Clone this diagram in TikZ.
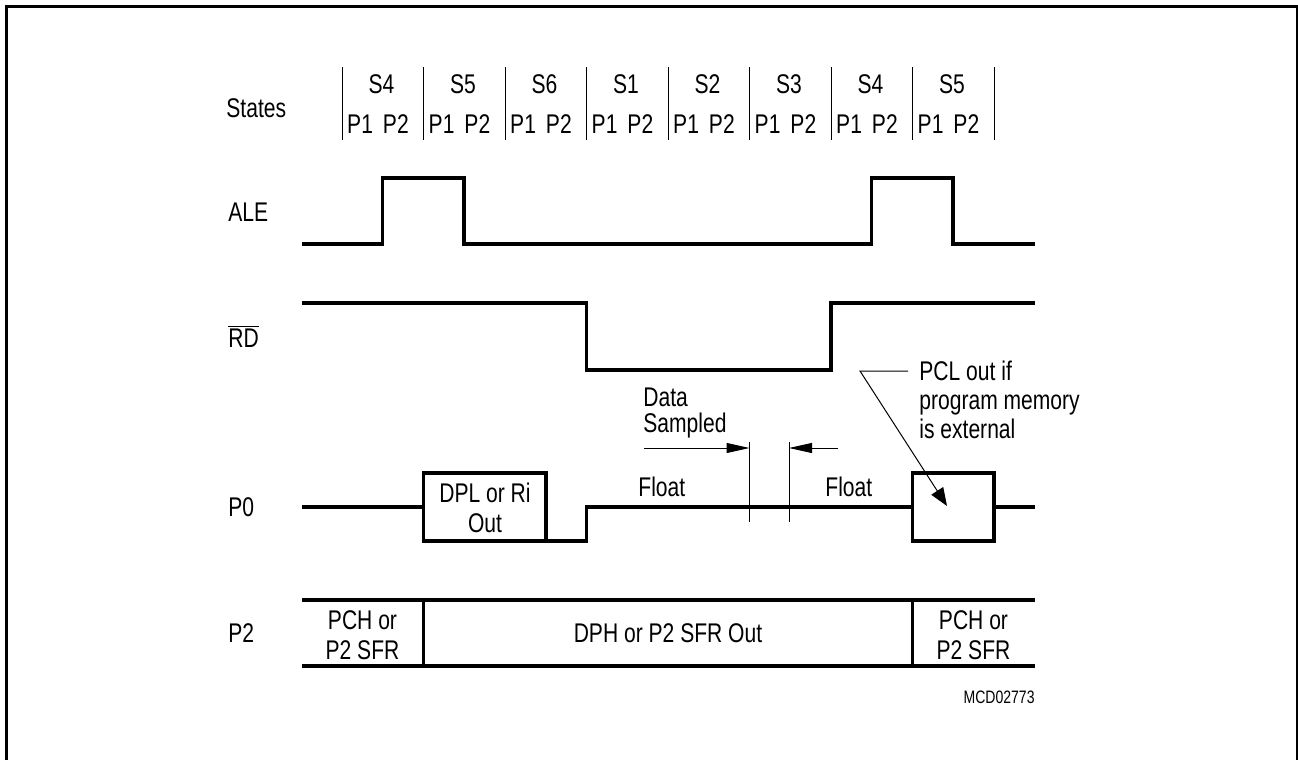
\documentclass[tikz,border=0pt]{standalone}
\usepackage{fontspec}
\setmainfont{Liberation Sans}[FakeStretch=0.78]
\usetikzlibrary{arrows.meta}

\begin{document}
\begin{tikzpicture}[x=0.5pt,y=-0.5pt,every node/.style={font=\fontsize{13.5}{15}\selectfont, inner sep=0pt}]
  \tikzset{
    sig/.style={line width=1.7pt, line join=miter},
    thin line/.style={line width=0.5pt},
    sample/.style={line width=0.5pt, -{Triangle[length=11.5pt,width=5pt]}},
    lead/.style={line width=0.5pt, -{Triangle[length=9pt,width=7pt]}},
    frame/.style={line width=1.35pt},
    lbl/.style={anchor=west}
  }
  \useasboundingbox (0,0) rectangle (1298,760);
  \draw[frame] (6.5,770) |- (1297.5,6.5) -- (1297.5,770);

  % states row
  \node[lbl] (states) at (226,108) {States};
  \draw[thin line] (342,67) -- (342,140) (423.5,67) -- (423.5,140)
    (505,67) -- (505,140) (586.5,67) -- (586.5,140) (668,67) -- (668,140)
    (749.5,67) -- (749.5,140) (831,67) -- (831,140) (912.5,67) -- (912.5,140)
    (994,67) -- (994,140);
  \node (s4a) at (381.5,84) {S4};
  \node (s5a) at (463,84) {S5};
  \node (s6) at (544.5,84) {S6};
  \node (s1) at (626,84) {S1};
  \node (s2) at (707.5,84) {S2};
  \node (s3) at (789,84) {S3};
  \node (s4b) at (870.5,84) {S4};
  \node (s5b) at (952,84) {S5};
  \node (p4a) at (378,124) {P1\hspace{5pt}P2};
  \node (p5a) at (459.5,124) {P1\hspace{5pt}P2};
  \node (p6) at (541,124) {P1\hspace{5pt}P2};
  \node (p1) at (622.5,124) {P1\hspace{5pt}P2};
  \node (p2) at (704,124) {P1\hspace{5pt}P2};
  \node (p3) at (785.5,124) {P1\hspace{5pt}P2};
  \node (p4b) at (867,124) {P1\hspace{5pt}P2};
  \node (p5b) at (948.5,124) {P1\hspace{5pt}P2};

  % signal names
  \node[lbl] (ale) at (228,212) {ALE};
  \node[lbl] (rd) at (228,336) {$\overline{\mbox{RD}}$};
  \node[lbl] (port0) at (228,507) {P0};
  \node[lbl] (port2) at (228,633) {P2};

  % ALE
  \draw[sig] (302,244) -- (382.5,244) -- (382.5,178) -- (464,178) -- (464,244)
    -- (871.5,244) -- (871.5,178) -- (953,178) -- (953,244) -- (1035,244);

  % RD
  \draw[sig] (302,303) -- (586.5,303) -- (586.5,370) -- (831,370) -- (831,303) -- (1035,303);

  % P0
  \draw[sig] (302,507) -- (423.5,507);
  \draw[sig] (423.5,473) rectangle (546,541);
  \draw[sig] (546,541) -- (586.5,541) -- (586.5,507) -- (912.5,507);
  \draw[sig] (912.5,473) rectangle (994,541);
  \draw[sig] (994,507) -- (1035,507);
  \node[align=center] (dpl) at (485,508) {DPL or Ri\\Out};
  \node[lbl] (float1) at (638,487) {Float};
  \node[lbl] (float2) at (825,487) {Float};

  % data sampled window
  \draw[thin line] (749.5,442) -- (749.5,522) (789,442) -- (789,522);
  \node[lbl, align=left, font=\fontsize{13.5}{13}\selectfont] (sampled) at (643,413) {Data\\Sampled};
  \coordinate (dsl) at (644,448);
  \coordinate (dsr) at (838,448);
  \draw[sample] (dsl) -- (749.5,448);
  \draw[sample] (dsr) -- (789,448);

  % PCL note
  \node[lbl, align=left, font=\fontsize{13.5}{14.5}\selectfont] (pcl) at (919,400) {PCL out if\\program memory\\is external};
  \coordinate (pclin) at (908,371);
  \coordinate (pclknee) at (860,371);
  \coordinate (pcltip) at (947,506);
  \draw[lead] (pclin) -- (pclknee) -- (pcltip);

  % P2
  \draw[sig] (302,600) -- (1035,600) (302,666) -- (1035,666)
    (423.5,600) -- (423.5,666) (912.5,600) -- (912.5,666);
  \node[align=center] (pch1) at (362.5,635) {PCH or\\P2 SFR};
  \node (dph) at (668,633) {DPH or P2 SFR Out};
  \node[align=center] (pch2) at (973.5,635) {PCH or\\P2 SFR};

  \node[anchor=east, font=\fontsize{9}{11}\selectfont] (mcd) at (1035,697) {MCD02773};
\end{tikzpicture}
\end{document}
